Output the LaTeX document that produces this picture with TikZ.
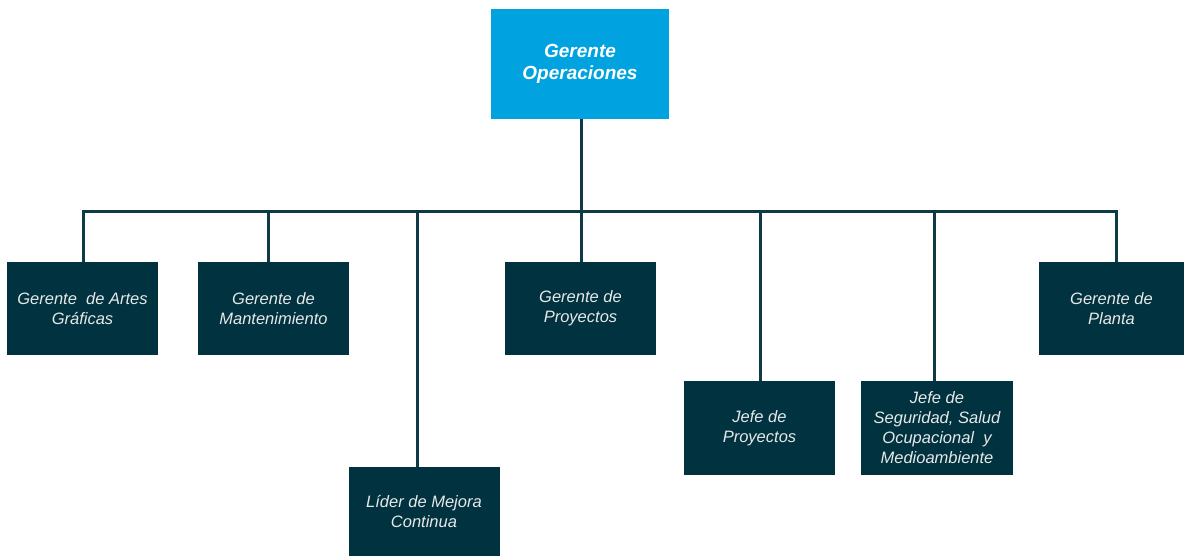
\documentclass[tikz,border=0pt]{standalone}
\usepackage{fontspec}
\setmainfont{Liberation Sans}
\definecolor{topblue}{HTML}{00A3E0}
\definecolor{darkbox}{HTML}{00323F}
\definecolor{linecol}{HTML}{0E3A45}
\definecolor{boxtext}{HTML}{E8E8E8}
\begin{document}
\begin{tikzpicture}[x=1pt,y=-1pt,
  topbox/.style={fill=topblue,draw=none,minimum width=178pt,minimum height=110pt,inner sep=0pt,
    text=white,align=center,font=\fontsize{19}{22.5}\selectfont\bfseries\itshape},
  orgbox/.style={fill=darkbox,draw=none,minimum width=151pt,minimum height=93pt,inner sep=0pt,
    text=boxtext,align=center,font=\fontsize{16.5}{20}\selectfont\itshape},
  conn/.style={draw=linecol,line width=3pt}]
\useasboundingbox (0,0) rectangle (1184,556);
\node[topbox] (top) at (580,64) {Gerente\\Operaciones};
\node[orgbox] (b1) at (82.5,308.5) {Gerente\ \ de Artes\\Gráficas};
\node[orgbox] (b2) at (273.5,308.5) {Gerente de\\Mantenimiento};
\node[orgbox,minimum height=89pt] (b3) at (424,511.5) {Líder de Mejora\\Continua};
\node[orgbox] (b4) at (580.5,308.5) {Gerente de\\Proyectos};
\node[orgbox,minimum height=94pt] (b5) at (759.5,428) {Jefe de\\Proyectos};
\node[orgbox,minimum height=94pt,minimum width=152pt] (b6) at (937,428) {Jefe de\\Seguridad, Salud\\Ocupacional\ \ y\\Medioambiente};
\node[orgbox,minimum width=145pt] (b7) at (1111.5,308.5) {Gerente de\\Planta};
\coordinate (j1) at (83,212);
\coordinate (j2) at (268,212);
\coordinate (j3) at (417,212);
\coordinate (j4) at (581,212);
\coordinate (j5) at (760,212);
\coordinate (j6) at (934,212);
\coordinate (j7) at (1116,212);
\draw[conn] (j1 |- b1.north) -- (j1) -- (j7) -- (j7 |- b7.north);
\draw[conn] (j4 |- top.south) -- (j4 |- b4.north);
\draw[conn] (j2) -- (j2 |- b2.north);
\draw[conn] (j3) -- (j3 |- b3.north);
\draw[conn] (j5) -- (j5 |- b5.north);
\draw[conn] (j6) -- (j6 |- b6.north);
\end{tikzpicture}
\end{document}
